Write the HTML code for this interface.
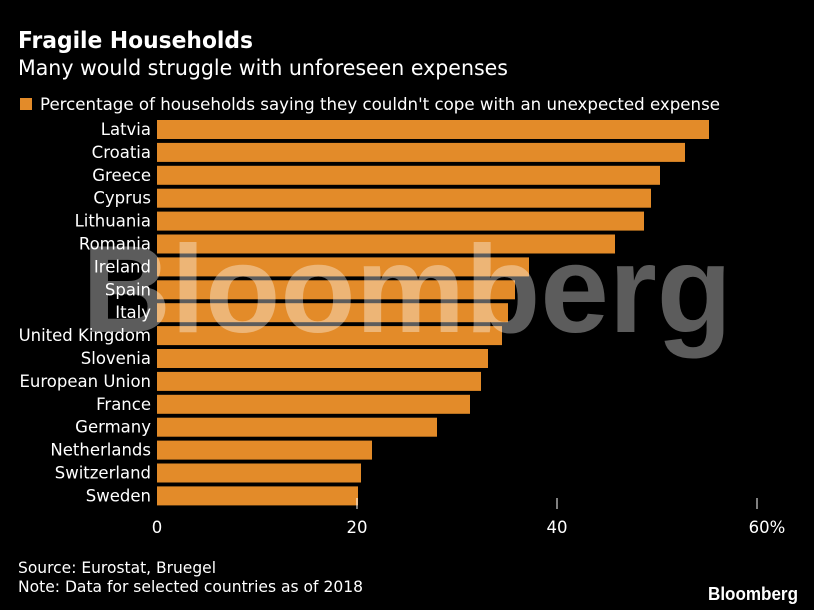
<!DOCTYPE html>
<html><head><meta charset="utf-8"><style>
html,body{margin:0;padding:0;background:#000;}
svg{display:block;font-family:"DejaVu Sans","Liberation Sans",sans-serif;}
</style></head><body>
<svg id="chart" width="814" height="610" viewBox="0 0 814 610">
<rect width="814" height="610" fill="#000"/>
<text x="18" y="48" fill="#fff" font-weight="bold" font-size="23" textLength="235" lengthAdjust="spacingAndGlyphs">Fragile Households</text>
<text x="18" y="75" fill="#fff" font-size="21" textLength="490" lengthAdjust="spacingAndGlyphs">Many would struggle with unforeseen expenses</text>
<rect x="20" y="98" width="12" height="12" fill="#e38b29"/>
<text x="40" y="110" fill="#fff" font-size="17" textLength="680" lengthAdjust="spacingAndGlyphs">Percentage of households saying they couldn't cope with an unexpected expense</text>
<g id="bars"></g>
<text x="82" y="332" fill="#ffffff" fill-opacity="0.36" font-family="Liberation Sans, sans-serif" font-weight="bold" font-size="124" textLength="650" lengthAdjust="spacingAndGlyphs">Bloomberg</text>
<g id="labels"></g>
<g id="axis"></g>
<text x="18" y="573" fill="#fff" font-size="16" textLength="198" lengthAdjust="spacingAndGlyphs">Source: Eurostat, Bruegel</text>
<text x="18" y="592" fill="#fff" font-size="16" textLength="345" lengthAdjust="spacingAndGlyphs">Note: Data for selected countries as of 2018</text>
<text x="708" y="600" fill="#fff" font-family="Liberation Sans, sans-serif" font-weight="bold" font-size="18" textLength="90" lengthAdjust="spacingAndGlyphs">Bloomberg</text>
</svg>
<script>
const categories = ["Latvia","Croatia","Greece","Cyprus","Lithuania","Romania","Ireland","Spain","Italy","United Kingdom","Slovenia","European Union","France","Germany","Netherlands","Switzerland","Sweden"];
const values = [55.2,52.8,50.3,49.4,48.7,45.8,37.2,35.8,35.1,34.5,33.1,32.4,31.3,28.0,21.5,20.4,20.1];
const tickValues = [0,20,40,60];
const tickLabels = ["0","20","40","60%"];
const NS = "http://www.w3.org/2000/svg";
const x0 = 157, pxPerUnit = 10;
function xScale(v){ return x0 + v * pxPerUnit; }
const rowTop = 120, rowStep = 22.9, barH = 19;
function yScale(i){ return rowTop + i * rowStep; }
const gb = document.getElementById('bars');
const gl = document.getElementById('labels');
categories.forEach((c,i)=>{
  const r = document.createElementNS(NS,'rect');
  
  
  r.setAttribute('x', xScale(0));
  r.setAttribute('y', yScale(i));
  r.setAttribute('width', xScale(values[i]) - xScale(0));
  r.setAttribute('height', barH);
  r.setAttribute('fill', '#e38b29');
  gb.appendChild(r);
  const t = document.createElementNS(NS,'text');
  
  
  t.setAttribute('x', 151);
  t.setAttribute('y', yScale(i) + 15);
  t.setAttribute('text-anchor', 'end');
  t.setAttribute('fill', '#fff');
  t.setAttribute('font-size', '16.5');
  t.textContent = c;
  gl.appendChild(t);
});
const ga = document.getElementById('axis');
tickValues.forEach((v,i)=>{
  if (v > 0) {
    const l = document.createElementNS(NS,'line');
    
    
    l.setAttribute('x1', xScale(v)); l.setAttribute('x2', xScale(v));
    l.setAttribute('y1', 498); l.setAttribute('y2', 509);
    l.setAttribute('stroke', '#fff'); l.setAttribute('stroke-width', '1');
    ga.appendChild(l);
  }
  const t = document.createElementNS(NS,'text');
  
  
  t.setAttribute('x', xScale(v) + (i === tickValues.length-1 ? 10 : 0));
  t.setAttribute('y', 533);
  t.setAttribute('text-anchor', 'middle');
  t.setAttribute('fill', '#fff');
  t.setAttribute('font-size', '16.5');
  t.textContent = tickLabels[i];
  ga.appendChild(t);
});
</script>
</body></html>
